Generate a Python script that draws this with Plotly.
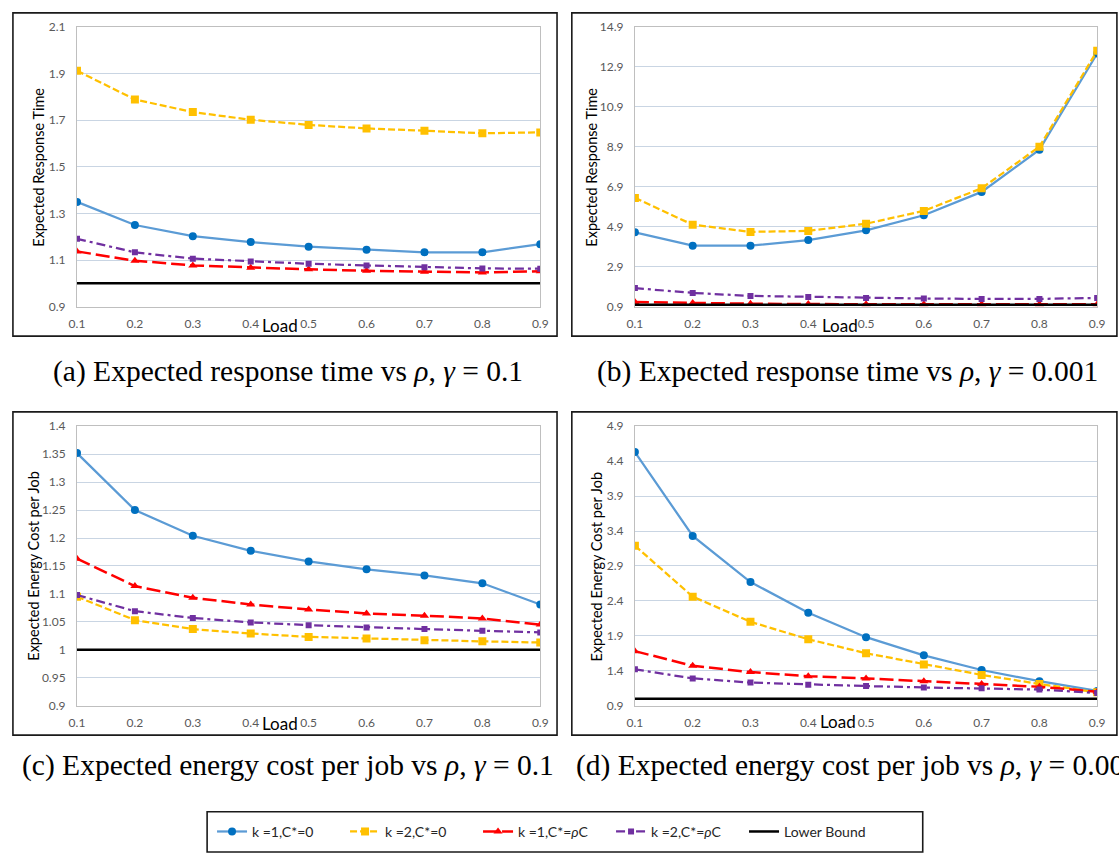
import plotly.graph_objects as go

W, H = 1119, 860

# ---- data -----------------------------------------------------------------
load = [0.1, 0.2, 0.3, 0.4, 0.5, 0.6, 0.7, 0.8, 0.9]
load_labels = ["0.1", "0.2", "0.3", "0.4", "0.5", "0.6", "0.7", "0.8", "0.9"]

# (a) expected response time, gamma = 0.1
rt_a_k1_c0 = [1.349, 1.250, 1.202, 1.177, 1.157, 1.144, 1.133, 1.133, 1.168]
rt_a_k2_c0 = [1.911, 1.788, 1.734, 1.701, 1.679, 1.664, 1.654, 1.643, 1.647]
rt_a_k1_rc = [1.137, 1.097, 1.077, 1.067, 1.060, 1.054, 1.050, 1.047, 1.052]
rt_a_k2_rc = [1.191, 1.133, 1.106, 1.094, 1.084, 1.077, 1.069, 1.064, 1.063]

# (b) expected response time, gamma = 0.001
rt_b_k1_c0 = [4.62, 3.95, 3.95, 4.23, 4.72, 5.47, 6.64, 8.75, 13.56]
rt_b_k2_c0 = [6.34, 5.00, 4.64, 4.69, 5.05, 5.69, 6.82, 8.90, 13.70]
rt_b_k1_rc = [1.13, 1.08, 1.05, 1.03, 1.02, 1.02, 1.02, 1.02, 1.02]
rt_b_k2_rc = [1.83, 1.59, 1.44, 1.39, 1.34, 1.31, 1.29, 1.29, 1.34]

# (c) expected energy cost per job, gamma = 0.1
ec_c_k1_c0 = [1.352, 1.250, 1.204, 1.177, 1.158, 1.144, 1.133, 1.119, 1.081]
ec_c_k2_c0 = [1.095, 1.053, 1.037, 1.029, 1.023, 1.020, 1.017, 1.015, 1.013]
ec_c_k1_rc = [1.163, 1.114, 1.093, 1.081, 1.072, 1.065, 1.061, 1.056, 1.045]
ec_c_k2_rc = [1.098, 1.069, 1.057, 1.049, 1.044, 1.040, 1.037, 1.034, 1.031]

# (d) expected energy cost per job, gamma = 0.001
ec_d_k1_c0 = [4.53, 3.33, 2.67, 2.23, 1.88, 1.62, 1.41, 1.25, 1.11]
ec_d_k2_c0 = [3.19, 2.46, 2.10, 1.85, 1.65, 1.49, 1.34, 1.21, 1.09]
ec_d_k1_rc = [1.68, 1.47, 1.38, 1.32, 1.29, 1.25, 1.21, 1.17, 1.10]
ec_d_k2_rc = [1.42, 1.29, 1.23, 1.20, 1.18, 1.16, 1.15, 1.13, 1.08]

lower_bound = [1.0] * len(load)

series_names = ["k =1,C*=0", "k =2,C*=0", "k =1,C*=<i>ρ</i>C",
                "k =2,C*=<i>ρ</i>C", "Lower Bound"]

# y tick labels per panel
yt_a = ["0.9", "1.1", "1.3", "1.5", "1.7", "1.9", "2.1"]
yt_b = ["0.9", "2.9", "4.9", "6.9", "8.9", "10.9", "12.9", "14.9"]
yt_c = ["0.9", "0.95", "1", "1.05", "1.1", "1.15", "1.2", "1.25", "1.3", "1.35", "1.4"]
yt_d = ["0.9", "1.4", "1.9", "2.4", "2.9", "3.4", "3.9", "4.4", "4.9"]

captions = [
    "(a) Expected response time vs <i>ρ</i>, <i>γ</i> = 0.1",
    "(b) Expected response time vs <i>ρ</i>, <i>γ</i> = 0.001",
    "(c) Expected energy cost per job vs <i>ρ</i>, <i>γ</i> = 0.1",
    "(d) Expected energy cost per job vs <i>ρ</i>, <i>γ</i> = 0.001",
]
ylabels = ["Expected Response Time", "Expected Response Time",
           "Expected Energy Cost per Job", "Expected Energy Cost per Job"]

# ---- styles -----------------------------------------------------------------
styles = [
    dict(line=dict(color="#5B9BD5", width=2.25),
         marker=dict(symbol="circle", size=8, color="#0070C0")),
    dict(line=dict(color="#FFC000", width=2.25, dash="7px,3px"),
         marker=dict(symbol="square", size=8, color="#FFC000")),
    dict(line=dict(color="#FF0000", width=2.5, dash="14px,5px"),
         marker=dict(symbol="triangle-up", size=8, color="#FF0000")),
    dict(line=dict(color="#7030A0", width=2.25, dash="9px,4px,3px,4px"),
         marker=dict(symbol="square", size=6, color="#7030A0")),
    dict(line=dict(color="#000000", width=2.5), marker=None),
]

def px_x(p):
    return p / W

def px_y(p):
    return 1 - p / H

# plot-area rectangles in pixels: (left, right, top, bottom)
areas = [(70, 540, 19, 304), (636, 1105, 19, 304),
         (70, 540, 425.7, 710), (636, 1105, 425.7, 710)]
# framing boxes around each panel
boxes = [(5, 557, 5, 334), (572, 1125, 5, 334),
         (5, 557, 411, 740), (572, 1125, 411, 740)]

panels = [
    ([rt_a_k1_c0, rt_a_k2_c0, rt_a_k1_rc, rt_a_k2_rc], (0.9, 2.1), yt_a),
    ([rt_b_k1_c0, rt_b_k2_c0, rt_b_k1_rc, rt_b_k2_rc], (0.9, 14.9), yt_b),
    ([ec_c_k1_c0, ec_c_k2_c0, ec_c_k1_rc, ec_c_k2_rc], (0.9, 1.4), yt_c),
    ([ec_d_k1_c0, ec_d_k2_c0, ec_d_k1_rc, ec_d_k2_rc], (0.9, 4.9), yt_d),
]

fig = go.Figure()
layout = dict()
annotations = []
shapes = []

tick_font = dict(family="Lato", size=12, color="#595959")
grid_col = "#C9D5E3"
frame_col = "#BFBFBF"

for i, (curves, yr, ytl) in enumerate(panels):
    n = "" if i == 0 else str(i + 1)
    xa, ya = "x" + n, "y" + n
    left, right, top, bottom = areas[i]
    for j, ys in enumerate(curves + [lower_bound]):
        st = styles[j]
        kw = dict(x=load, y=ys, xaxis=xa, yaxis=ya, name=series_names[j],
                  legendgroup=str(j), showlegend=(i == 0), line=st["line"])
        if st["marker"] is None:
            kw["mode"] = "lines"
        else:
            kw["mode"] = "lines+markers"
            kw["marker"] = st["marker"]
        fig.add_trace(go.Scatter(**kw))

    layout["xaxis" + n] = dict(
        domain=[px_x(left), px_x(right)], anchor=ya, range=[0.1, 0.9],
        tickvals=load, ticktext=load_labels, showgrid=False, zeroline=False,
        showline=True, linecolor=frame_col, linewidth=1, mirror=True,
        ticks="outside", ticklen=6, tickcolor="rgba(0,0,0,0)",
        tickfont=tick_font, fixedrange=True)
    yvals = [float(t) for t in ytl]
    layout["yaxis" + n] = dict(
        domain=[px_y(bottom), px_y(top)], anchor=xa, range=list(yr),
        tickvals=yvals, ticktext=ytl, showgrid=True, gridcolor=grid_col,
        gridwidth=1, zeroline=False, showline=True, linecolor=frame_col,
        linewidth=1, mirror=True, ticks="outside", ticklen=8,
        tickcolor="rgba(0,0,0,0)", tickfont=tick_font, fixedrange=True)

    bl, br, bt, bb = boxes[i]
    shapes.append(dict(type="rect", xref="paper", yref="paper",
                       x0=px_x(bl), x1=px_x(br), y0=px_y(bb), y1=px_y(bt),
                       line=dict(color="#1A1A1A", width=1.6)))

# y-axis titles
ylab_pos = [(31, 162), (592, 162), (25, 568), (597, 568)]
for i, (x, y) in enumerate(ylab_pos):
    annotations.append(dict(text=ylabels[i], x=px_x(x), y=px_y(y),
                            xref="paper", yref="paper", showarrow=False,
                            textangle=-90, xanchor="center", yanchor="middle",
                            font=dict(family="Lato", size=14.5, color="#000000")))

# x-axis titles
load_pos = [(276, 323), (844, 323), (276, 728), (842, 726)]
for (x, y) in load_pos:
    annotations.append(dict(text="Load", x=px_x(x), y=px_y(y),
                            xref="paper", yref="paper", showarrow=False,
                            xanchor="center", yanchor="middle",
                            font=dict(family="Lato", size=17, color="#000000")))

# panel captions
cap_pos = [(284, 370, "center"), (852, 370, "center"),
           (284, 771, "center"), (574, 771, "left")]
for i, (x, y, anc) in enumerate(cap_pos):
    annotations.append(dict(text=captions[i], x=px_x(x), y=px_y(y),
                            xref="paper", yref="paper", showarrow=False,
                            xanchor=anc, yanchor="middle",
                            font=dict(family="Liberation Serif", size=29.5,
                                      color="#000000")))

# legend frame
shapes.append(dict(type="rect", xref="paper", yref="paper",
                   x0=px_x(202), x1=px_x(928), y0=px_y(859), y1=px_y(818),
                   line=dict(color="#1A1A1A", width=1.6)))

fig.update_layout(
    width=W, height=H, margin=dict(l=0, r=0, t=0, b=0),
    paper_bgcolor="white", plot_bgcolor="white",
    showlegend=True,
    legend=dict(orientation="h", x=px_x(207), y=px_y(838.5),
                xanchor="left", yanchor="middle",
                font=dict(family="Lato", size=14, color="#262626"),
                entrywidth=88, entrywidthmode="pixels",
                bgcolor="rgba(0,0,0,0)", borderwidth=0, itemclick=False),
    annotations=annotations, shapes=shapes, **layout)

fig.write_html("out.html")
